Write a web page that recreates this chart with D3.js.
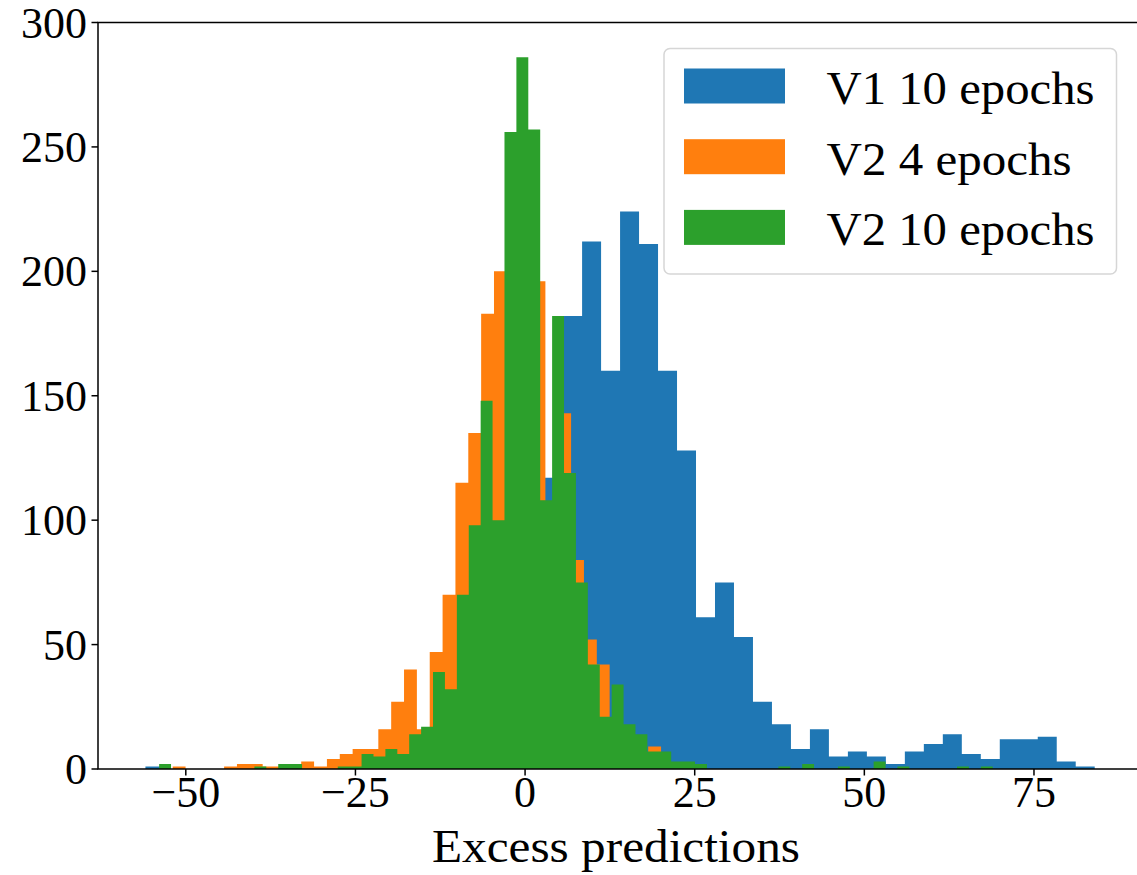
<!DOCTYPE html>
<html>
<head>
<meta charset="utf-8">
<script src="https://cdn.jsdelivr.net/npm/d3@7"></script>
<style>
  body { margin: 0; background: #fff; }
  text { font-family: 'Liberation Serif', 'DejaVu Serif', serif; fill: #000; }
</style>
</head>
<body>
<div id="chart"></div>
<script>
// histogram counts, one array per series
const v1Start = -55.95
const v1Width = 2.798
const v1Counts = [1, 0, 0, 0, 0, 0, 0, 0, 0, 0, 0, 0, 0, 0, 2, 4, 10, 20, 35, 60,
  90, 117, 182, 212, 160, 224, 211, 160, 128, 61, 75, 53, 27, 18, 8, 16, 5, 7, 5, 2,
  7, 10, 14, 6, 4, 12, 12, 13, 3, 1]

const v2e4Start = -51.93
const v2e4Width = 1.894
const v2e4Counts = [1, 0, 0, 0, 1, 2, 2, 1, 1, 0, 3, 1, 4, 6, 8, 8, 16, 27, 40, 16,
  47, 70, 115, 135, 183, 200, 240, 215, 196, 100, 143, 84, 52, 42, 20, 12, 6, 9]

const v2e10Start = -53.93
const v2e10Width = 1.755
const v2e10Counts = [2, 0, 0, 0, 0, 0, 0, 0, 1, 0, 2, 2, 0, 0, 0, 1, 1, 6, 5, 8,
  6, 14, 17, 39, 32, 70, 98, 148, 100, 256, 286, 257, 108, 182, 119, 75, 42, 21, 34, 18,
  14, 7, 7, 3, 3, 2, 0, 0, 0, 0, 0, 0, 1, 0, 2, 0, 0, 1, 0, 0,
  3, 0, 1, 0, 0, 0, 0, 1, 0, 1]

const seriesNames = ['V1 10 epochs', 'V2 4 epochs', 'V2 10 epochs']
const colors = ['#1f77b4', '#ff7f0e', '#2ca02c']
const xTicks = [-50, -25, 0, 25, 50, 75]
const yTicks = [0, 50, 100, 150, 200, 250, 300]

const fullWidth = 1137
const fullHeight = 875
const margin = { top: 22.5, left: 98, right: -5, bottom: 106 }
const width = fullWidth - margin.left - margin.right
const height = fullHeight - margin.top - margin.bottom

const svg = d3.select('#chart')
  .append('svg')
  .attr('width', fullWidth)
  .attr('height', fullHeight)

const g = svg.append('g')
  .attr('transform', 'translate(' + margin.left + ',' + margin.top + ')')

const x = d3.scaleLinear().domain([-62.94, 90.92]).range([0, width])
const y = d3.scaleLinear().domain([0, 300]).range([height, 0])

function toBins(start, step, counts) {
  return counts.map((c, i) => ({ x0: start + i * step, x1: start + (i + 1) * step, count: c }))
}

const series = [
  toBins(v1Start, v1Width, v1Counts),
  toBins(v2e4Start, v2e4Width, v2e4Counts),
  toBins(v2e10Start, v2e10Width, v2e10Counts)
]

// one stepped area per series so neighbouring bars don't leave seams
const stepArea = d3.area()
  .curve(d3.curveStepAfter)
  .x(d => x(d.x))
  .y0(y(0))
  .y1(d => y(d.count))

// draw in order so the green one lands on top, like matplotlib
series.forEach((bins, si) => {
  const pts = bins.map(d => ({ x: d.x0, count: d.count }))
  pts.push({ x: bins[bins.length - 1].x1, count: 0 })
  g.append('path')
    .datum(pts)
    .attr('d', stepArea)
    .attr('fill', colors[si])
})

// frame
g.append('rect')
  .attr('x', 0)
  .attr('y', 0)
  .attr('width', width)
  .attr('height', height)
  .attr('fill', 'none')
  .attr('stroke', '#000')
  .attr('stroke-width', 1.5)

const fmt = d => (d < 0 ? '\u2212' + Math.abs(d) : String(d))

const xAxis = g.append('g').attr('transform', 'translate(0,' + height + ')')
xAxis.selectAll('line')
  .data(xTicks)
  .enter()
  .append('line')
  .attr('x1', d => x(d))
  .attr('x2', d => x(d))
  .attr('y1', 0)
  .attr('y2', 6.5)
  .attr('stroke', '#000')
  .attr('stroke-width', 1.5)
xAxis.selectAll('text')
  .data(xTicks)
  .enter()
  .append('text')
  .attr('x', d => x(d))
  .attr('y', 38)
  .attr('text-anchor', 'middle')
  .attr('font-size', 44)
  .text(fmt)

const yAxis = g.append('g')
yAxis.selectAll('line')
  .data(yTicks)
  .enter()
  .append('line')
  .attr('x1', -6.5)
  .attr('x2', 0)
  .attr('y1', d => y(d))
  .attr('y2', d => y(d))
  .attr('stroke', '#000')
  .attr('stroke-width', 1.5)
yAxis.selectAll('text')
  .data(yTicks)
  .enter()
  .append('text')
  .attr('x', -11)
  .attr('y', d => y(d) + 15)
  .attr('text-anchor', 'end')
  .attr('font-size', 44)
  .text(d => d)

svg.append('text')
  .attr('x', 616)
  .attr('y', 862)
  .attr('text-anchor', 'middle')
  .attr('font-size', 46)
  .attr('textLength', 368)
  .attr('lengthAdjust', 'spacingAndGlyphs')
  .text('Excess predictions')

// legend
const legend = svg.append('g').attr('transform', 'translate(664,48.5)')
legend.append('rect')
  .attr('width', 452.5)
  .attr('height', 225.5)
  .attr('rx', 6)
  .attr('fill', '#fff')
  .attr('fill-opacity', 0.8)
  .attr('stroke', '#d6d6d6')
  .attr('stroke-width', 1.5)

const legendWidths = [268, 245, 268]
const item = legend.selectAll('.item')
  .data(seriesNames)
  .enter()
  .append('g')
  .attr('class', 'item')
  .attr('transform', (d, i) => 'translate(0,' + (i * 70.7) + ')')
item.append('rect')
  .attr('x', 20)
  .attr('y', 20)
  .attr('width', 101)
  .attr('height', 35)
  .attr('fill', (d, i) => colors[i])
item.append('text')
  .attr('x', 162.5)
  .attr('y', 55.5)
  .attr('font-size', 46)
  .attr('textLength', (d, i) => legendWidths[i])
  .attr('lengthAdjust', 'spacingAndGlyphs')
  .text(d => d)
</script>
</body>
</html>
